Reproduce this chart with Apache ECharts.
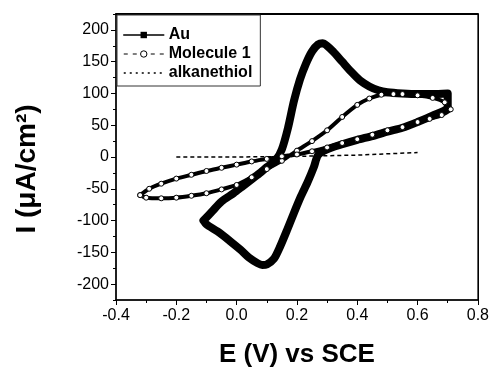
<!DOCTYPE html>
<html>
<head>
<meta charset="utf-8">
<script src="https://cdn.jsdelivr.net/npm/echarts@6/dist/echarts.min.js"></script>
<style>html,body{margin:0;padding:0;background:#fff;}#c{width:492px;height:373px;}</style>
</head>
<body>
<div id="c"></div>
<script>
// Au electrode (thick line) : forward scan then reverse scan
const auE = [-0.11,-0.08,-0.05,-0.01,0.02,0.05,0.08,0.10,0.13,0.15,0.17,0.19,0.21,0.23,0.25,0.27,0.285,0.30,0.32,0.35,0.38,0.41,0.44,0.47,0.50,0.55,0.60,0.65,0.70,
             0.70,0.70,0.65,0.60,0.55,0.50,0.45,0.40,0.35,0.30,0.27,0.256,0.235,0.213,0.19,0.168,0.145,0.124,0.10,0.085,0.069,0.04,0.013,-0.02,-0.064,-0.10,-0.11];
const auI = [-100,-85,-70,-57,-46,-35,-24,-16,-5,12,45,88,122,147,166,177,179,175,166,150,134,120,111,105,102,100,99,99,100,
             88,78,65,55,46,40,33,27,20,12,3,-16,-40,-62,-88,-114,-140,-160,-169,-170,-167,-158,-146,-133,-117,-106,-100];
// Molecule 1 (line with open circles): forward along bottom, then reverse
const molE = [-0.32,-0.30,-0.25,-0.20,-0.15,-0.10,-0.05,0.00,0.05,0.10,0.15,0.20,0.25,0.30,0.35,0.40,0.44,0.48,0.52,0.55,0.60,0.65,0.69,0.71,
              0.68,0.64,0.60,0.55,0.50,0.45,0.40,0.35,0.30,0.25,0.20,0.15,0.10,0.05,0.00,-0.05,-0.10,-0.15,-0.20,-0.25,-0.29,-0.32];
const molI = [-60,-64,-65,-64,-61,-57,-51,-44,-32,-19,-6,10,25,42,63,82,92,98,99,99,97,93,86,75,
              66,60,55,47,42,35,28,22,15,9,4,1,-3,-7,-12,-17,-22,-28,-34,-42,-50,-60];
// Alkanethiol (dashed)
const alkE = [-0.20,-0.10,0.00,0.10,0.20,0.30,0.40,0.50,0.60];
const alkI = [0,0,0,0.5,1,2,3,5,7];
// Tick labels
const yMajor = [-200,-150,-100,-50,0,50,100,150,200];
const yMinor = [-225,-175,-125,-75,-25,25,75,125,175,225];
const seriesNames = ['Au','Molecule 1','alkanethiol'];

const pairs = (xs, ys) => xs.map((x, i) => [x, ys[i]]);
const FF = '"Liberation Sans", Arial, sans-serif';

const chart = echarts.init(document.getElementById('c'), null, {renderer: 'canvas'});
chart.setOption({
  animation: false,
  backgroundColor: '#fff',
  grid: {left: 116, right: 13, top: 14, bottom: 68, show: true, borderColor: '#000', borderWidth: 1},
  legend: {
    orient: 'vertical', left: 117, top: 15,
    padding: [12, 8, 5, 6], itemGap: 3, itemWidth: 40, itemHeight: 8,
    borderColor: '#333', borderWidth: 1, backgroundColor: '#fff',
    textStyle: {fontFamily: FF, fontWeight: 'bold', fontSize: 16, color: '#000'},
    data: [
      {name: seriesNames[0], lineStyle: {width: 1.5, type: 'solid', color: '#000'}, itemStyle: {color: '#000'}},
      {name: seriesNames[1], lineStyle: {width: 1, type: [4, 5], color: '#000'}, itemStyle: {color: '#fff', borderColor: '#000', borderWidth: 1}},
      {name: seriesNames[2], lineStyle: {width: 1.5, type: [2, 4], color: '#000'}, itemStyle: {color: 'rgba(0,0,0,0)', borderWidth: 0}}
    ]
  },
  xAxis: [{
    type: 'value', min: -0.4, max: 0.8, interval: 0.2, position: 'bottom',
    axisLine: {show: true, onZero: false, lineStyle: {color: '#000', width: 1.5}},
    axisTick: {show: true, inside: false, length: 5, lineStyle: {color: '#000'}},
    minorTick: {show: true, splitNumber: 2, length: 3, lineStyle: {color: '#000'}},
    splitLine: {show: false},
    axisLabel: {margin: 8, fontSize: 16, color: '#000', fontFamily: FF, formatter: v => v.toFixed(1)},
    name: 'E (V) vs SCE', nameLocation: 'middle', nameGap: 42,
    nameTextStyle: {fontFamily: FF, fontWeight: 'bold', fontSize: 26, color: '#000'}
  }, {
    type: 'value', min: -0.4, max: 0.8, interval: 0.2, position: 'top',
    axisLine: {show: true, onZero: false, lineStyle: {color: '#000', width: 2}},
    axisTick: {show: false}, axisLabel: {show: false}, splitLine: {show: false}
  }],
  yAxis: [{
    type: 'value', min: -225, max: 225, position: 'left',
    axisLine: {show: true, onZero: false, lineStyle: {color: '#000', width: 1.5}},
    axisTick: {show: true, inside: false, length: 5, customValues: yMajor, lineStyle: {color: '#000'}},
    axisLabel: {customValues: yMajor, margin: 7, fontSize: 16, color: '#000', fontFamily: FF},
    splitLine: {show: false},
    name: 'I (μA/cm²)', nameLocation: 'middle', nameGap: 75,
    nameTextStyle: {fontFamily: FF, fontWeight: 'bold', fontSize: 28, color: '#000', padding: [0, 24, 0, 0]}
  }, {
    type: 'value', min: -225, max: 225, position: 'left',
    axisLine: {show: false, onZero: false},
    axisTick: {show: true, inside: false, length: 3, customValues: yMinor, lineStyle: {color: '#000'}},
    axisLabel: {show: false}, splitLine: {show: false}
  }, {
    type: 'value', min: -225, max: 225, position: 'right',
    axisLine: {show: true, onZero: false, lineStyle: {color: '#000', width: 1}},
    axisTick: {show: false}, axisLabel: {show: false}, splitLine: {show: false}
  }],
  series: [{
    name: seriesNames[0], type: 'line', data: pairs(auE, auI),
    symbol: 'rect', symbolSize: 5, showSymbol: false, smooth: 0.25,
    itemStyle: {color: '#000'},
    lineStyle: {color: '#000', width: 8, join: 'round', cap: 'round'}
  }, {
    name: seriesNames[1], type: 'line', data: pairs(molE, molI),
    symbol: 'circle', symbolSize: 5, showSymbol: true, showAllSymbol: true, smooth: 0.25,
    itemStyle: {color: '#fff', borderColor: '#000', borderWidth: 1},
    lineStyle: {color: '#000', width: 4, join: 'round'}
  }, {
    name: seriesNames[2], type: 'line', data: pairs(alkE, alkI),
    symbol: 'circle', symbolSize: 0, showSymbol: false, smooth: false,
    itemStyle: {color: 'rgba(0,0,0,0)'},
    lineStyle: {color: '#000', width: 1.5, type: [4, 3]}
  }]
});
</script>
</body>
</html>
